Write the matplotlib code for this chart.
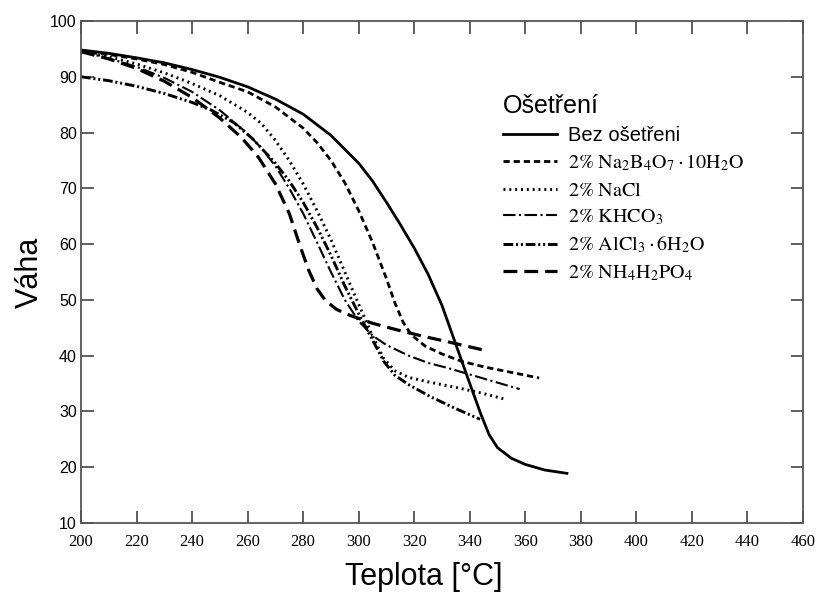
import matplotlib.pyplot as plt

plt.rcParams["font.family"] = ["Liberation Sans", "DejaVu Sans"]
plt.rcParams["mathtext.fontset"] = "stix"
plt.rcParams["lines.scale_dashes"] = False

# data
x_bez = [200, 210, 220, 230, 240, 250, 260, 270, 280, 290, 300, 305, 310,
         315, 320, 325, 330, 335, 340, 344, 347, 350, 355, 360, 367, 375]
y_bez = [94.8, 94.2, 93.4, 92.5, 91.3, 89.9, 88.2, 86.0, 83.3, 79.5, 74.5,
         71.3, 67.5, 63.5, 59.3, 54.6, 49.0, 42.0, 35.0, 29.5, 25.8, 23.5,
         21.6, 20.5, 19.5, 18.9]

x_borax = [200, 210, 220, 230, 240, 250, 260, 270, 280, 285, 290, 295, 300,
           305, 310, 313, 316, 319, 324, 330, 337, 345, 355, 365]
y_borax = [94.5, 94.0, 93.2, 92.2, 90.8, 89.0, 87.3, 84.6, 80.8, 78.2, 75.0,
           71.0, 66.0, 60.3, 53.8, 49.5, 46.0, 43.7, 41.7, 40.3, 39.0, 38.0,
           37.0, 36.0]

x_nacl = [200, 210, 220, 230, 240, 250, 260, 265, 270, 275, 280, 285, 290,
          295, 300, 305, 309, 313, 318, 325, 336, 345, 353.4]
y_nacl = [94.5, 93.6, 92.3, 90.7, 88.8, 86.6, 83.6, 81.6, 78.6, 75.0, 70.8,
          66.0, 60.8, 55.0, 49.2, 43.5, 39.5, 37.3, 36.1, 35.3, 34.2, 33.2,
          32.1]

x_khco3 = [200, 210, 220, 230, 240, 250, 260, 265, 270, 275, 280, 285, 290,
           295, 300, 305, 310, 318, 325, 332, 345, 358]
y_khco3 = [94.5, 93.3, 91.8, 89.8, 87.3, 84.0, 79.8, 77.2, 74.0, 70.0, 65.5,
           60.3, 55.0, 50.0, 46.2, 43.6, 41.9, 40.0, 38.7, 37.8, 35.9, 34.0]

x_alcl3 = [200, 210, 220, 230, 240, 247, 255, 262, 270, 275, 280, 285, 290,
           295, 300, 305, 309, 313, 318, 326, 335, 343.7]
y_alcl3 = [90.0, 89.3, 88.3, 87.0, 85.4, 84.0, 81.8, 78.8, 74.5, 71.3, 67.5,
           63.0, 58.0, 52.5, 47.5, 42.8, 39.0, 36.5, 34.8, 32.6, 30.5, 28.6]

x_nh4 = [200, 210, 220, 230, 240, 250, 258, 264, 270, 275, 279, 282, 285,
         288, 292, 297, 305, 314, 323, 332, 345]
y_nh4 = [94.5, 93.2, 91.5, 89.2, 86.3, 82.6, 79.0, 75.5, 70.8, 65.5, 59.5,
         55.3, 52.0, 49.9, 48.3, 47.2, 45.8, 44.6, 43.5, 42.5, 41.0]

x_ticks = list(range(200, 461, 20))
y_ticks = list(range(10, 101, 10))

legend_title = "Ošetření"
labels = [
    "Bez ošetřeni",
    r"$\mathrm{2\%\ Na_2B_4O_7 \cdot 10H_2O}$",
    r"$\mathrm{2\%\ NaCl}$",
    r"$\mathrm{2\%\ KHCO_3}$",
    r"$\mathrm{2\%\ AlCl_3 \cdot 6H_2O}$",
    r"$\mathrm{2\%\ NH_4H_2PO_4}$",
]

fig = plt.figure(figsize=(8.21, 5.95), dpi=100)
ax = fig.add_axes([81 / 821, 72 / 595, 722 / 821, 502 / 595])

ax.plot(x_bez, y_bez, color="black", linewidth=2.0, label=labels[0])
ax.plot(x_borax, y_borax, color="black", linewidth=2.0,
        dashes=(4.5, 2.8), label=labels[1])
ax.plot(x_nacl, y_nacl, color="black", linewidth=2.1,
        dashes=(1.4, 2.8), label=labels[2])
ax.plot(x_khco3, y_khco3, color="black", linewidth=1.5,
        dashes=(9, 2.5, 1.5, 2.5), label=labels[3])
ax.plot(x_alcl3, y_alcl3, color="black", linewidth=2.1,
        dashes=(7, 2, 1.5, 2, 1.5, 2), label=labels[4])
ax.plot(x_nh4, y_nh4, color="black", linewidth=2.3,
        dashes=(10, 5), label=labels[5])

ax.set_xlim(200, 460)
ax.set_ylim(10, 100)
ax.set_xticks(x_ticks)
ax.set_yticks(y_ticks)

ax.tick_params(direction="in", length=9, width=1.1, top=True, right=True,
               colors="#333333", labelcolor="black")
for lab in ax.get_xticklabels():
    lab.set_fontfamily("Liberation Serif")
    lab.set_fontsize(12)
for lab in ax.get_yticklabels():
    lab.set_fontsize(11.5)
ax.tick_params(axis="x", pad=8)
ax.tick_params(axis="y", pad=3)

for sp in ax.spines.values():
    sp.set_color("#555555")
    sp.set_linewidth(1.3)

ax.set_xlabel("Teplota [°C]", fontsize=22)
ax.set_ylabel("Váha", fontsize=22)
ax.xaxis.set_label_coords((424 - 81) / 722, (523 - 577) / 502)
ax.yaxis.set_label_coords((30 - 81) / 722, 0.5)
ax.xaxis.label.set_va("center")
ax.yaxis.label.set_va("center")

leg = ax.legend(
    title=legend_title,
    loc="upper left",
    bbox_to_anchor=(503 / 821, 1 - 94 / 595),
    bbox_transform=fig.transFigure,
    frameon=False,
    fontsize=14.5,
    title_fontsize=18,
    handlelength=2.7,
    handletextpad=0.55,
    labelspacing=0.38,
    borderpad=0,
    borderaxespad=0,
    alignment="left",
)
leg.get_texts()[0].set_fontsize(14.5)

fig.savefig("out.png", dpi=100)
plt.close()
